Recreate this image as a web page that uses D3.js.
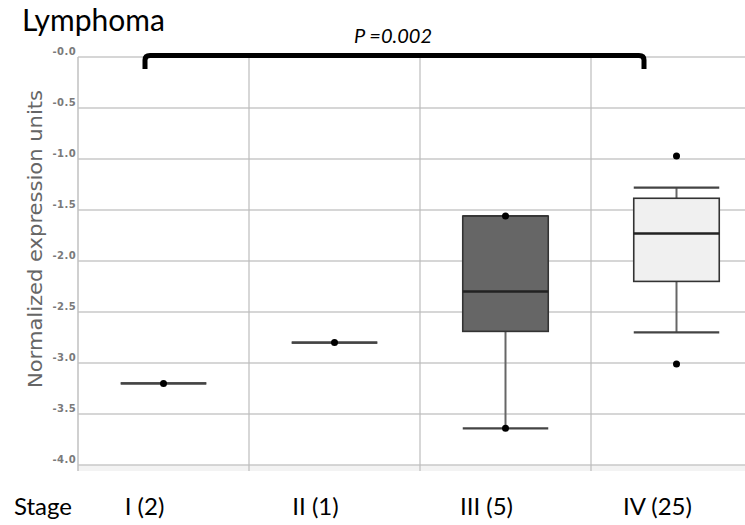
<meta charset='utf-8'>
<script src='https://d3js.org/d3.v7.min.js'></script>
<style>
body {margin:0; background:#fff;}
.grid line {stroke:#c8c8c8; stroke-width:1.5;}
.vgrid line {stroke:#bdbdbd; stroke-width:1.2;}
.ytick {font-family:'DejaVu Sans'; font-size:10px; font-weight:bold; fill:#7a7a7a; letter-spacing:0.4px;}
.lab {font-family:Lato; fill:#000;}
</style>
<body>
<svg id='chart' width='745' height='525'></svg>
<script>
var stages=['I (2)','II (1)','III (5)','IV (25)'];
var mins=[-3.2,-2.8,-3.64,-2.70];
var q1s=[-3.2,-2.8,-2.69,-2.20];
var medians=[-3.2,-2.8,-2.30,-1.73];
var q3s=[-3.2,-2.8,-1.56,-1.385];
var maxs=[-3.2,-2.8,-1.56,-1.28];
var points=[['I (2)',-3.2],['II (1)',-2.8],['III (5)',-1.56],['III (5)',-3.64],['IV (25)',-0.97],['IV (25)',-3.01]];
var yTicks=[0,-0.5,-1,-1.5,-2,-2.5,-3,-3.5,-4];
var boxFills=[null,null,'#666666','#f0f0f0'];

var svg=d3.select('#chart');
var x=d3.scaleBand().domain(stages).range([78,762]).padding(0);
var y=d3.scaleLinear().domain([-4,0]).range([465,57]);
var bw=x.bandwidth()*0.5;
var fmt=function(d){return '-'+d3.format('.1f')(Math.abs(d))};

// bottom strip
svg.append('rect').attr('x',78).attr('y',465).attr('width',667).attr('height',6).attr('fill','#f3f3f3');
// horizontal grid
svg.append('g').attr('class','grid').selectAll('line').data(yTicks).enter().append('line')
   .attr('x1',78).attr('x2',745).attr('y1',function(d){return y(d)}).attr('y2',function(d){return y(d)});
// vertical grid at band edges
svg.append('g').attr('class','vgrid').selectAll('line').data(stages.slice(1)).enter().append('line')
   .attr('x1',function(d){return x(d)}).attr('x2',function(d){return x(d)}).attr('y1',57).attr('y2',471);
svg.append('line').attr('x1',78).attr('x2',78).attr('y1',57).attr('y2',471).attr('stroke','#c0c0c0').attr('stroke-width',1.5);
// y tick labels
svg.selectAll('.ytick').data(yTicks).enter().append('text').attr('class','ytick')
   .attr('x',76).attr('y',function(d){return y(d)-2}).attr('text-anchor','end')
   .text(fmt);

// boxes
var idx=d3.range(stages.length);
var g=svg.append('g');
idx.forEach(function(i){
  var cx=x(stages[i])+x.bandwidth()/2;
  if(maxs[i]>mins[i]){
    g.append('line').attr('x1',cx).attr('x2',cx).attr('y1',y(maxs[i])).attr('y2',y(mins[i]))
     .attr('stroke','#666').attr('stroke-width',2);
  }
  [mins[i],maxs[i]].forEach(function(v){
    g.append('line').attr('x1',cx-bw/2).attr('x2',cx+bw/2).attr('y1',y(v)).attr('y2',y(v))
     .attr('stroke','#444').attr('stroke-width',2.2);
  });
  if(q3s[i]>q1s[i]){
    g.append('rect').attr('x',cx-bw/2).attr('width',bw).attr('y',y(q3s[i])).attr('height',y(q1s[i])-y(q3s[i]))
     .attr('fill',boxFills[i]).attr('stroke','#333').attr('stroke-width',1.6);
    g.append('line').attr('x1',cx-bw/2).attr('x2',cx+bw/2).attr('y1',y(medians[i])).attr('y2',y(medians[i]))
     .attr('stroke','#222').attr('stroke-width',2.5);
  }
});
g.selectAll('circle').data(points).enter().append('circle')
 .attr('cx',function(d){return x(d[0])+x.bandwidth()/2}).attr('cy',function(d){return y(d[1])})
 .attr('r',3.5).attr('fill','#000');

// titles
svg.append('text').attr('class','lab').attr('x',22).attr('y',31).style('font-size','30px').text('Lymphoma');
svg.append('text').attr('transform','translate(42,239) rotate(-90)').attr('text-anchor','middle')
   .attr('textLength',298).attr('lengthAdjust','spacingAndGlyphs')
   .style('font-family','DejaVu Sans').style('font-size','19px').style('fill','#666').text('Normalized expression units');
// bracket
svg.append('path').attr('d','M145,69 L145,60 Q145,55.5 150,55.5 L639,55.5 Q644,55.5 644,60 L644,69')
   .attr('fill','none').attr('stroke','#000').attr('stroke-width',5);
svg.append('text').attr('class','lab').attr('x',393).attr('y',43).attr('text-anchor','middle')
   .style('font-size','20px').style('font-style','italic').text('P =0.002');
// x labels
svg.append('text').attr('class','lab').attr('x',14).attr('y',515).style('font-size','24px').text('Stage');
svg.selectAll('.xl').data(stages).enter().append('text').attr('class','lab xl')
   .attr('x',function(d){return x(d)+x.bandwidth()/2-19}).attr('y',515).attr('text-anchor','middle')
   .style('font-size','24px').text(function(d){return d});
</script>
</body>
